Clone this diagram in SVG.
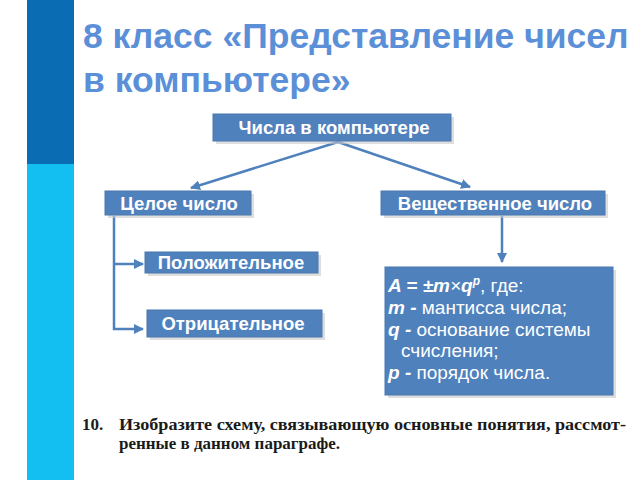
<svg xmlns="http://www.w3.org/2000/svg" width="640" height="480" viewBox="0 0 640 480">
<defs>
<style>
.box{fill:#4f81bd;stroke:#4a78b0;stroke-width:1}
.sh{fill:#c8c8c8;opacity:0.6}
.lbl{font-family:"Liberation Sans",Arial,sans-serif;font-weight:bold;font-size:18.5px;fill:#fff;text-anchor:middle}
.body{font-family:"Liberation Sans",Arial,sans-serif;font-size:19px;fill:#fff}
.bi{font-weight:bold;font-style:italic}
.con{stroke:#4f81bd;stroke-width:2.5;fill:none}
.title{font-family:"Liberation Sans",Arial,sans-serif;font-weight:bold;font-size:35.5px;fill:#5b8fd8}
.book{font-family:"Liberation Serif","Times New Roman",serif;font-weight:bold;font-size:17px;fill:#1a1a1a}
</style>
<marker id="ah" viewBox="0 0 10 10" refX="9" refY="5" markerWidth="4" markerHeight="4" orient="auto" markerUnits="strokeWidth">
<path d="M0,0 L10,5 L0,10 z" fill="#4f81bd"/>
</marker>
</defs>
<rect width="640" height="480" fill="#fff"/>
<rect x="27" y="0" width="47" height="164" fill="#0a6db3"/>
<rect x="27" y="164" width="47" height="316" fill="#12bff0"/>
<text class="title" x="83" y="48">8 класс «Представление чисел</text>
<text class="title" x="83" y="92">в компьютере»</text>

<g id="connectors">
<path class="con" d="M338,142 L191,188" marker-end="url(#ah)"/>
<path class="con" d="M338,142 L470,187" marker-end="url(#ah)"/>
<path class="con" d="M502,216 L502,262" marker-end="url(#ah)"/>
<path class="con" d="M114,216 L114,329 L143,329" marker-end="url(#ah)"/>
<path class="con" d="M114,264 L143,264" marker-end="url(#ah)"/>
</g>

<g id="n_root">
<rect class="sh" x="216" y="117" width="238" height="27"/>
<rect class="box" x="213" y="114" width="238" height="27"/>
<text class="lbl" x="334" y="134">Числа в компьютере</text>
</g>
<g id="n_int">
<rect class="sh" x="108" y="194" width="146" height="24"/>
<rect class="box" x="105" y="191" width="146" height="24"/>
<text class="lbl" x="179" y="209.5">Целое число</text>
</g>
<g id="n_real">
<rect class="sh" x="384" y="194" width="224" height="24"/>
<rect class="box" x="381" y="191" width="224" height="24"/>
<text class="lbl" x="495" y="209.5">Вещественное число</text>
</g>
<g id="n_pos">
<rect class="sh" x="148" y="255" width="173" height="21"/>
<rect class="box" x="145" y="252" width="173" height="21"/>
<text class="lbl" x="231" y="269">Положительное</text>
</g>
<g id="n_neg">
<rect class="sh" x="150" y="313" width="175" height="27"/>
<rect class="box" x="147" y="310" width="175" height="27"/>
<text class="lbl" x="233" y="330">Отрицательное</text>
</g>
<g id="n_formula">
<rect class="sh" x="388" y="270" width="228" height="128"/>
<rect class="box" x="385" y="267" width="228" height="128"/>
<text class="body" x="388" y="292"><tspan class="bi">A = ±m</tspan><tspan font-style="italic">×</tspan><tspan class="bi">q</tspan><tspan class="bi" font-size="12" dy="-7">p</tspan><tspan dy="7">, где:</tspan></text>
<text class="body" x="388" y="314"><tspan class="bi">m - </tspan>мантисса числа;</text>
<text class="body" x="388" y="336"><tspan class="bi">q - </tspan>основание системы</text>
<text class="body" x="401" y="357">счисления;</text>
<text class="body" x="388" y="379"><tspan class="bi">p - </tspan>порядок числа.</text>
</g>

<text class="book" x="82" y="430">10.</text>
<text class="book" x="119" y="430" textLength="507" lengthAdjust="spacingAndGlyphs">Изобразите схему, связывающую основные понятия, рассмот-</text>
<text class="book" x="119" y="449" textLength="221" lengthAdjust="spacingAndGlyphs">ренные в данном параграфе.</text>
</svg>
